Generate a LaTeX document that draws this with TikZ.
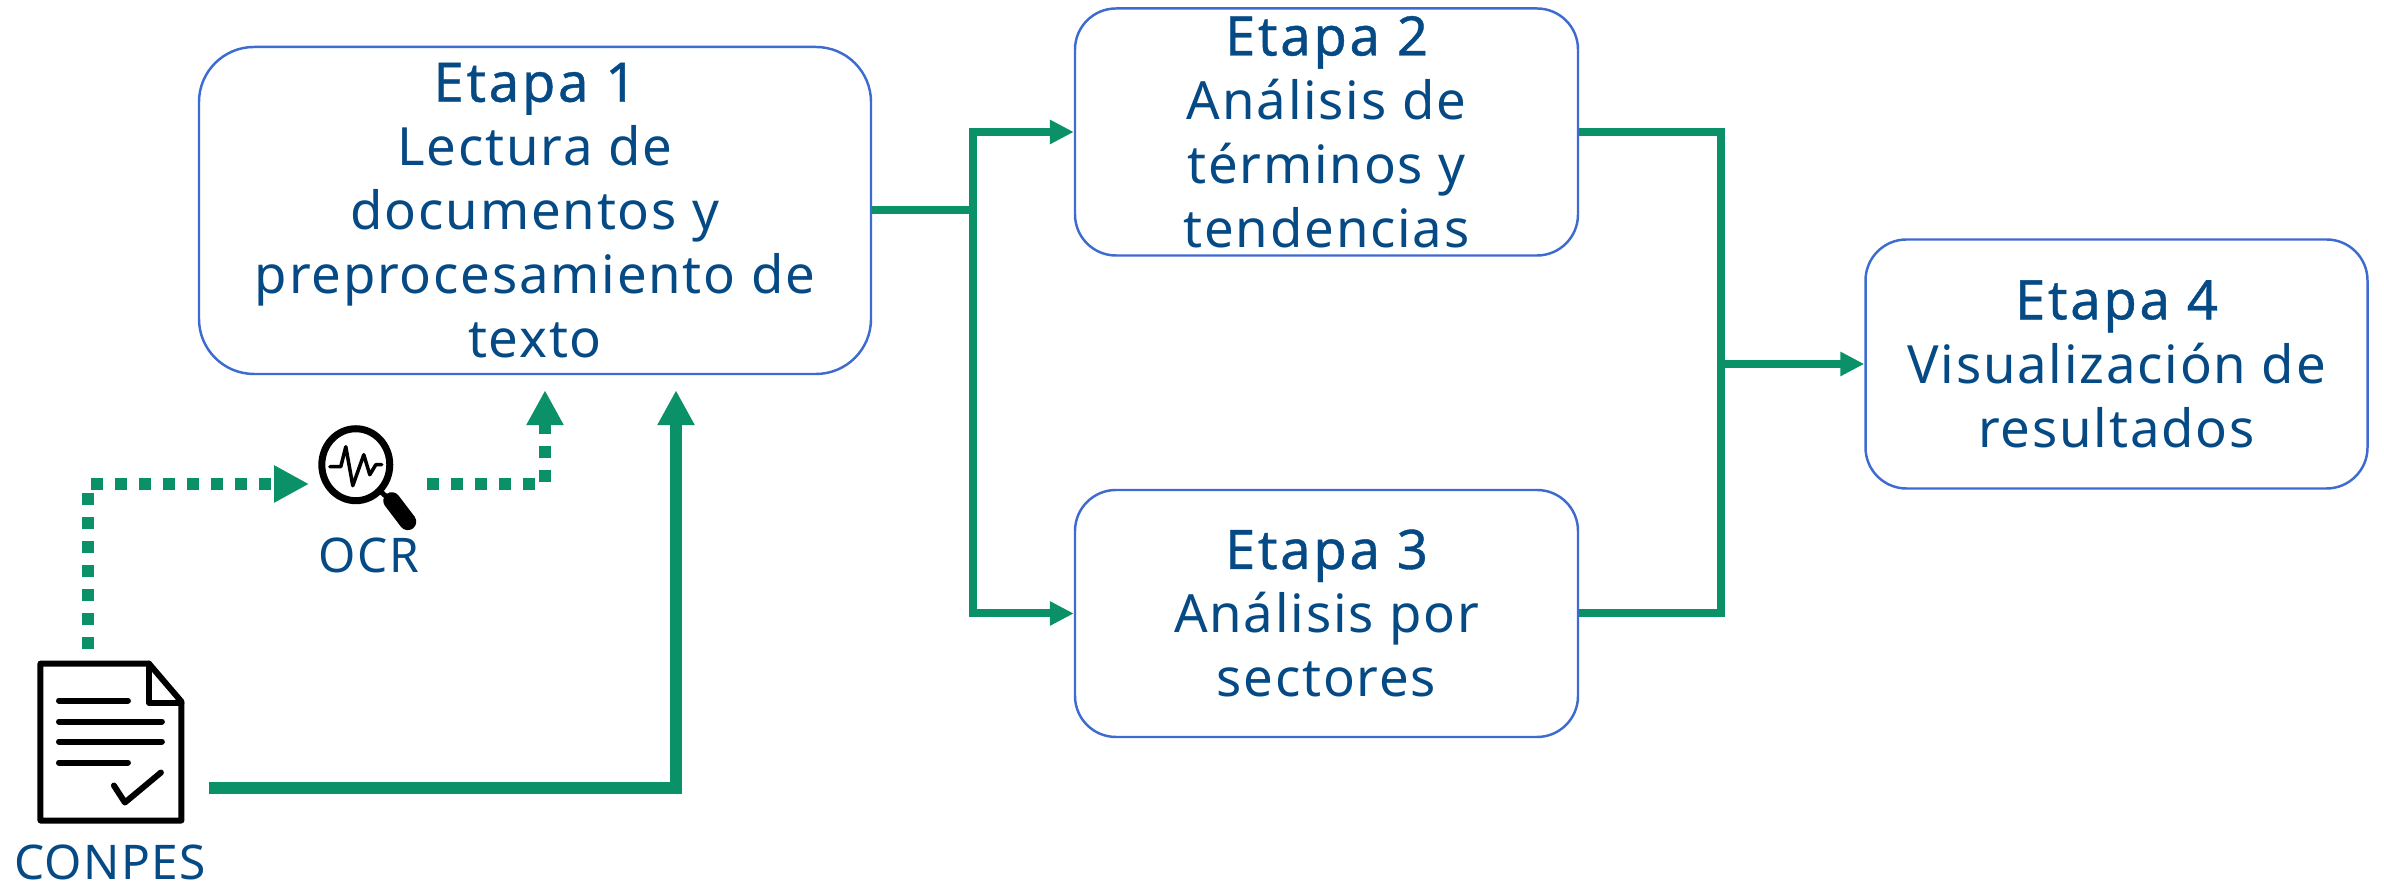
\documentclass[tikz,border=0pt]{standalone}
\usepackage{fontspec}
\setmainfont[LetterSpace=3.4]{Noto Sans}
\newfontfamily\labelfont[LetterSpace=3]{Noto Sans}
\usetikzlibrary{arrows.meta}

\definecolor{flowgreen}{HTML}{0A9168}
\definecolor{textblue}{HTML}{054A85}
\definecolor{boxblue}{HTML}{3D6BD0}
\newcommand{\stagetitle}[1]{{\fontsize{15.5}{18.2}\selectfont\addfontfeature{LetterSpace=4.8,FakeBold=0.7}#1}}

\begin{document}
\begin{tikzpicture}[
    stage box/.style={draw=boxblue, line width=0.7pt, fill=white, rounded corners=#1, align=center, inner sep=0pt,
        text=textblue, font=\fontsize{15}{18.2}\selectfont},
    icon area/.style={inner sep=0pt, outer sep=0pt},
    source label/.style={text=textblue, inner sep=0pt, font=\labelfont\fontsize{13.6}{16}\selectfont},
    flow/.style={draw=flowgreen, line width=8*0.2845pt, line join=miter, -{Triangle[length=0.24cm, width=0.23cm]}},
    flow line/.style={draw=flowgreen, line width=8*0.2845pt, line join=miter},
    big flow/.style={draw=flowgreen, line width=12*0.2845pt, line join=miter, -{Triangle[length=0.35cm, width=0.35cm]}},
    ocr flow/.style={big flow, dash pattern=on 12*0.2845pt off 12*0.2845pt},
    icon line/.style={draw=black, line width=6*0.2845pt, line cap=round, line join=round}
]

\useasboundingbox (0,0) rectangle (23.84,8.84);

% Stages
\node[stage box=0.55cm, minimum width=6.72cm, minimum height=3.27cm] (e1) at (5.35,6.735)
    {\stagetitle{Etapa 1}\\Lectura de\\documentos y\\preprocesamiento de\\texto};
\node[stage box=0.41cm, minimum width=5.03cm, minimum height=2.47cm] (e2) at (13.265,7.52)
    {\stagetitle{Etapa 2}\\Análisis de\\términos y\\tendencias};
\node[stage box=0.41cm, minimum width=5.03cm, minimum height=2.47cm] (e3) at (13.265,2.705)
    {\stagetitle{Etapa 3}\\Análisis por\\sectores};
\node[stage box=0.41cm, minimum width=5.02cm, minimum height=2.49cm] (e4) at (21.165,5.20)
    {\stagetitle{Etapa 4}\\Visualización de\\resultados};

% Icon places and their labels
\node[icon area, minimum width=1.48cm, minimum height=1.63cm] (doc icon) at (1.11,1.415) {};
\node[icon area, minimum width=1.18cm, minimum height=1.02cm] (ocr icon) at (3.68,4.00) {};
\node[source label] (conpes) at (1.10,0.22) {CONPES};
\node[source label] (ocr) at (3.69,3.29) {OCR};

% Document icon
\begin{scope}[shift={(0,8.84)}, x=0.01cm, y=-0.01cm]
    \draw[icon line, line cap=butt, miter limit=4] (149,664) -- (40.5,664) -- (40.5,821) -- (181.5,821) -- (181.5,702) -- cycle;
    \draw[icon line] (149,664) -- (149,703) -- (181.5,703);
    \draw[icon line] (59,701) -- (128,701);
    \draw[icon line] (59,722) -- (162,722);
    \draw[icon line] (59,742) -- (162,742);
    \draw[icon line] (59,763) -- (128,763);
    \draw[icon line] (114,786) -- (125,803) -- (161,773);
\end{scope}

% Magnifier icon
\begin{scope}[shift={(0,8.84)}, x=0.01cm, y=-0.01cm]
    \draw[icon line, line width=7*0.2845pt] (356,465) ellipse (34 and 36);
    \draw[icon line, line width=5*0.2845pt] (381,492) -- (390,500);
    \draw[icon line, line width=17*0.2845pt] (392,501) -- (408,522);
    \draw[icon line, line width=3.5*0.2845pt] (330,467) -- (341,467) -- (346,447) -- (353,486) -- (364,455) -- (370,475) -- (376,465) -- (382,465);
\end{scope}

% Connectors
\coordinate (split) at (9.73,6.735);
\coordinate (merge) at (17.21,5.20);
\draw[flow line] (e1.east) -- (split);
\draw[flow] (split) |- (e2.west);
\draw[flow] (split) |- (e3.west);
\draw[flow line] (e2.east) -| (merge) |- (e3.east);
\draw[flow] (merge) -- (e4.west);
\draw[big flow] ([xshift=0.24cm,yshift=-0.455cm]doc icon.east) -| ([xshift=1.41cm,yshift=-0.15cm]e1.south);
\draw[ocr flow] ([xshift=-0.23cm,yshift=0.12cm]doc icon.north) |- (ocr icon.west);
\draw[ocr flow] (ocr icon.east) -| ([xshift=0.10cm,yshift=-0.15cm]e1.south);

\end{tikzpicture}
\end{document}
